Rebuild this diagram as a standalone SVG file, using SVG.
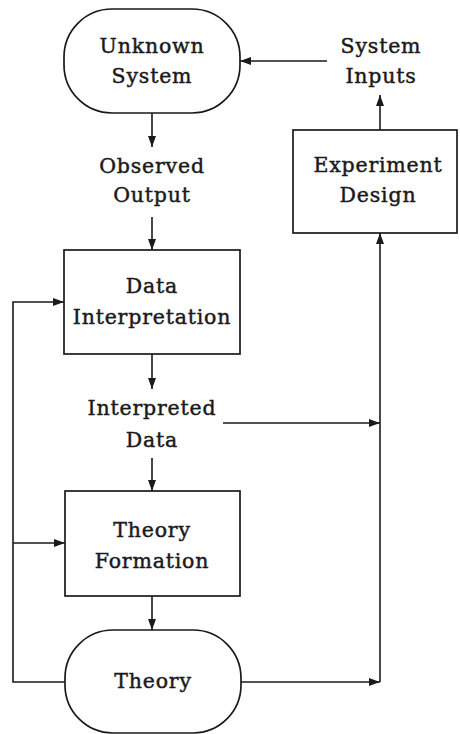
<svg xmlns="http://www.w3.org/2000/svg" width="460" height="734" viewBox="0 0 460 734">
<style>
.n{fill:#fff;stroke:#1a1a1a;stroke-width:1.7}
.t{font-family:"DejaVu Serif","Liberation Serif",serif;font-size:20.5px;letter-spacing:0.8px;fill:#1a1a1a;stroke:#1a1a1a;stroke-width:0.45;text-anchor:middle}
.c{fill:none;stroke:#1a1a1a;stroke-width:1.6}
</style>
<defs>
<marker id="ah" viewBox="0 0 11 8" refX="11" refY="4" markerWidth="11" markerHeight="8" markerUnits="userSpaceOnUse" orient="auto">
<path d="M0,0 L11,4 L0,8 Z" fill="#1a1a1a"/>
</marker>
</defs>
<rect width="460" height="734" fill="#fff"/>
<g id="connectors">
<path class="c" d="M327,61 L240,61" marker-end="url(#ah)"/>
<path class="c" d="M380,130 L380,95" marker-end="url(#ah)"/>
<path class="c" d="M152,113 L152,147" marker-end="url(#ah)"/>
<path class="c" d="M152,217 L152,250" marker-end="url(#ah)"/>
<path class="c" d="M152,354 L152,389" marker-end="url(#ah)"/>
<path class="c" d="M152,458 L152,491" marker-end="url(#ah)"/>
<path class="c" d="M152,596 L152,630" marker-end="url(#ah)"/>
<path class="c" d="M223,423 L380,423" marker-end="url(#ah)"/>
<path class="c" d="M241,682 L380,682" marker-end="url(#ah)"/>
<path class="c" d="M380,682 L380,233" marker-end="url(#ah)"/>
<path class="c" d="M65,682 L13,682 L13,302 L64,302" marker-end="url(#ah)"/>
<path class="c" d="M13,543 L65,543" marker-end="url(#ah)"/>
</g>
<g id="unknown-system">
<rect class="n" x="64" y="9" width="176" height="104" rx="48" ry="48"/>
<text class="t" x="152" y="53">Unknown</text>
<text class="t" x="152" y="83">System</text>
</g>
<g id="system-inputs">
<text class="t" x="381" y="53">System</text>
<text class="t" x="381" y="83">Inputs</text>
</g>
<g id="experiment-design">
<rect class="n" x="293" y="130" width="164" height="103"/>
<text class="t" x="378" y="172">Experiment</text>
<text class="t" x="378" y="202">Design</text>
</g>
<g id="observed-output">
<text class="t" x="152" y="173">Observed</text>
<text class="t" x="152" y="202">Output</text>
</g>
<g id="data-interpretation">
<rect class="n" x="64" y="250" width="176" height="104"/>
<text class="t" x="152" y="293">Data</text>
<text class="t" x="152" y="324">Interpretation</text>
</g>
<g id="interpreted-data">
<text class="t" x="152" y="415">Interpreted</text>
<text class="t" x="152" y="447">Data</text>
</g>
<g id="theory-formation">
<rect class="n" x="65" y="491" width="175" height="105"/>
<text class="t" x="152" y="537">Theory</text>
<text class="t" x="152" y="568">Formation</text>
</g>
<g id="theory">
<rect class="n" x="65" y="630" width="176" height="103" rx="48" ry="48"/>
<text class="t" x="153" y="688">Theory</text>
</g>
</svg>
